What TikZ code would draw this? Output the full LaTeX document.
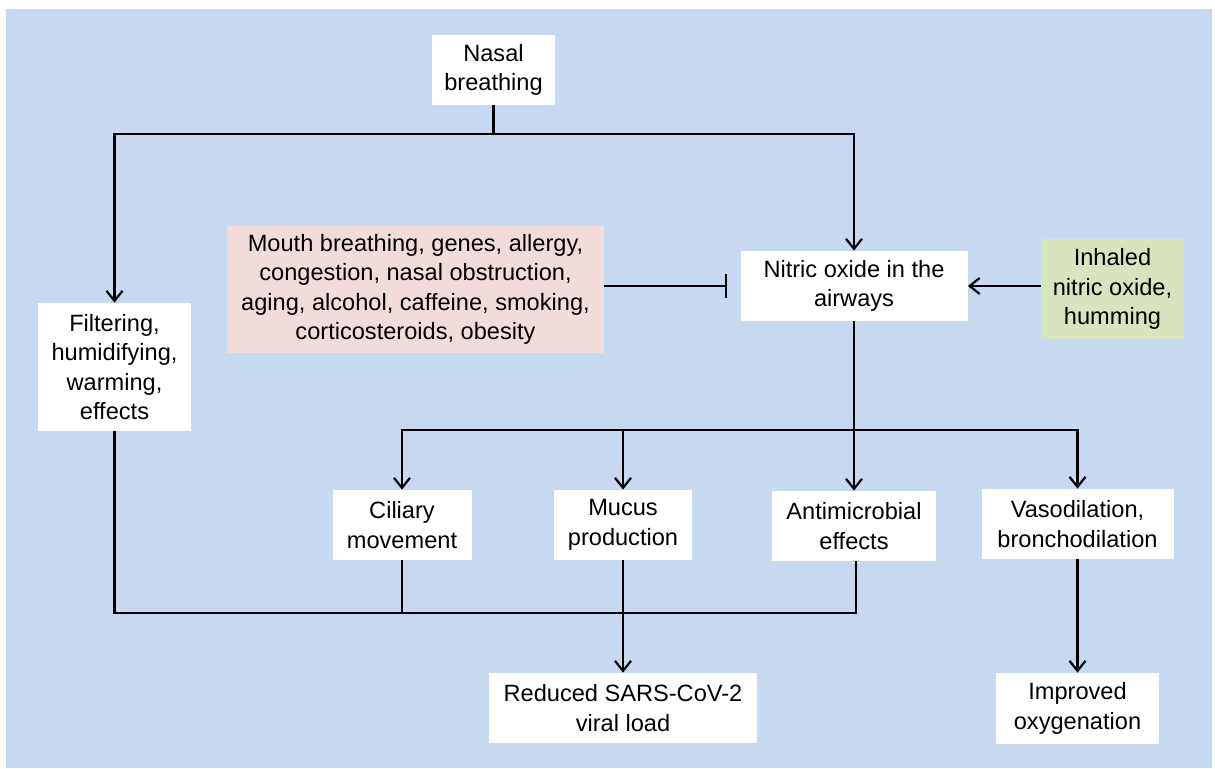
\documentclass[tikz,border=0pt]{standalone}
\usepackage{fontspec}
\setmainfont{Liberation Sans}
\usetikzlibrary{arrows.meta}
\definecolor{bgblue}{HTML}{C6D9F0}
\definecolor{pinkbox}{HTML}{F2DCDB}
\definecolor{greenbox}{HTML}{D7E4BD}
\begin{document}
\begin{tikzpicture}[x=0.5pt,y=-0.5pt,
  box/.style={fill=white, align=center, inner sep=0pt, font=\fontsize{11.8pt}{14.8pt}\selectfont},
  conn/.style={line width=1.1pt, draw=black},
  arr/.style={conn, -{Straight Barb[length=5pt,width=8pt,line width=1.1pt]}},
  inhib/.style={conn, -{Bar[width=12pt,line width=1.1pt]}}]
\useasboundingbox (0,0) rectangle (1215,769);
\fill[white] (0,0) rectangle (1215,769);
\fill[bgblue] (6,9) rectangle (1212,768);

\node[box, minimum width=61.5pt, minimum height=35pt] (nasal) at (493.5,70) {Nasal\\breathing};
\node[box, minimum width=76.5pt, minimum height=64pt] (filt) at (114.5,367) {Filtering,\\humidifying,\\warming,\\effects};
\node[box, fill=pinkbox, minimum width=188.5pt, minimum height=63.5pt] (mouth) at (415.5,289.5) {Mouth breathing, genes, allergy,\\congestion, nasal obstruction,\\aging, alcohol, caffeine, smoking,\\corticosteroids, obesity};
\node[box, minimum width=113.5pt, minimum height=35pt] (no) at (854,286) {Nitric oxide in the\\airways};
\node[box, fill=greenbox, minimum width=71.5pt, minimum height=50pt] (inh) at (1112.5,289) {Inhaled\\nitric oxide,\\humming};
\node[box, minimum width=69.5pt, minimum height=35pt] (cil) at (402,525) {Ciliary\\movement};
\node[box, minimum width=69pt, minimum height=35pt] (muc) at (623,525) {Mucus\\production};
\node[box, minimum width=82pt, minimum height=35pt] (anti) at (854,526) {Antimicrobial\\effects};
\node[box, minimum width=96pt, minimum height=35pt] (vaso) at (1077.5,524) {Vasodilation,\\bronchodilation};
\node[box, minimum width=134pt, minimum height=35pt] (red) at (623,708) {Reduced SARS-CoV-2\\viral load};
\node[box, minimum width=81.5pt, minimum height=35.5pt] (imp) at (1077.5,708.5) {Improved\\oxygenation};

% top split
\coordinate (j1) at (493.5,134);
\draw[conn] (nasal.south) -- (j1);
\draw[arr] (j1) -| (filt.north);
\draw[arr] (j1) -| (no.north);

% inhibition and input
\draw[inhib, shorten >=6.5pt] (mouth.east |- no.west) -- (no.west);
\draw[arr] (inh.west |- no.east) -- (no.east);

% NO branch
\coordinate (j2) at (854,430);
\draw[arr] (no.south) -- (anti.north);
\draw[arr] (j2) -| (cil.north);
\draw[arr] (j2) -| (muc.north);
\draw[arr] (j2) -| (vaso.north);

% bottom merge
\coordinate (j3) at (402,613);
\draw[conn] (filt.south) |- (j3) -- ([xshift=1pt]anti.south |- j3) -- ([xshift=1pt]anti.south);
\draw[conn] (cil.south) -- (j3);
\draw[arr] (muc.south) -- (red.north);
\draw[arr] (vaso.south) -- (imp.north);
\end{tikzpicture}
\end{document}
